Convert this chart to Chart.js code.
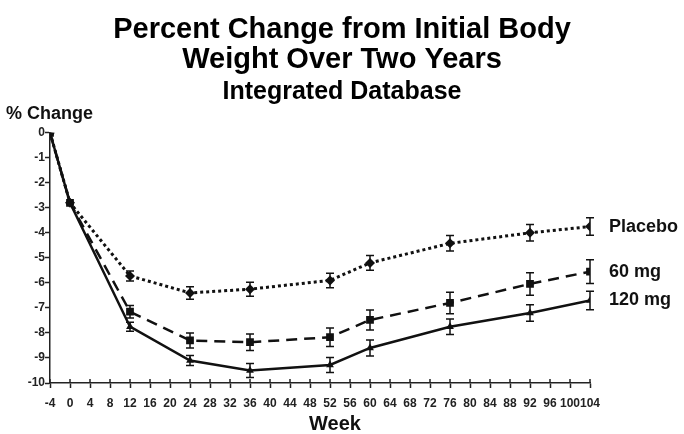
<!DOCTYPE html>
<html lang="en">
<head>
    <meta charset="UTF-8">
    <title>Percent Change from Initial Body Weight Over Two Years</title>
    <script src="https://cdn.jsdelivr.net/npm/chart.js@4.4.1/dist/chart.umd.min.js"></script>
    <style>
        html, body { margin: 0; padding: 0; background: #fff; }
        #wrap { width: 684px; height: 434px; }
    </style>
</head>
<body>
    <div id="wrap"><canvas id="weightChart"></canvas></div>

    <script>
        // Values
        const weeks = [-4, 0, 12, 24, 36, 52, 60, 76, 92, 104];
        const placebo = [0, -2.8, -5.72, -6.4, -6.25, -5.9, -5.2, -4.42, -4.0, -3.75];
        const mg60 = [0, -2.8, -7.15, -8.3, -8.37, -8.17, -7.48, -6.8, -6.04, -5.55];
        const mg120 = [0, -2.8, -7.75, -9.1, -9.5, -9.28, -8.6, -7.75, -7.2, -6.7];

        // half-length of the error bars
        const placeboErr = [0, 0, 0.2, 0.25, 0.28, 0.29, 0.29, 0.31, 0.33, 0.35];
        const mg60Err = [0, 0, 0.25, 0.3, 0.33, 0.37, 0.4, 0.43, 0.45, 0.47];
        const mg120Err = [0, 0, 0.18, 0.2, 0.28, 0.3, 0.32, 0.31, 0.33, 0.37];

        const seriesNames = ['Placebo', '60 mg', '120 mg'];
        const weekTicks = { min: -4, max: 104, step: 4 };
        const changeTicks = { min: -10, max: 0, step: 1 };

        const ink = '#111';
        const pts = (vals) => weeks.map((w, i) => ({ x: w, y: vals[i] }));

        Chart.defaults.font.family = '"Liberation Sans", Arial, sans-serif';
        Chart.defaults.color = ink;

        // error bars + inner x ticks + free text labels
        const extras = {
            id: 'extras',
            afterDatasetsDraw(chart) {
                const ctx = chart.ctx;
                const xs = chart.scales.x, ys = chart.scales.y;
                const errs = [placeboErr, mg60Err, mg120Err];
                ctx.save();
                ctx.strokeStyle = ink;
                ctx.lineWidth = 1.5;
                chart.data.datasets.forEach((ds, i) => {
                    ds.data.forEach((p, j) => {
                        const e = errs[i][j];
                        if (!e) return;
                        const x = xs.getPixelForValue(p.x);
                        const y1 = ys.getPixelForValue(p.y + e);
                        const y2 = ys.getPixelForValue(p.y - e);
                        ctx.beginPath();
                        ctx.moveTo(x, y1); ctx.lineTo(x, y2);
                        ctx.moveTo(x - 4, y1); ctx.lineTo(x + 4, y1);
                        ctx.moveTo(x - 4, y2); ctx.lineTo(x + 4, y2);
                        ctx.stroke();
                    });
                });
                ctx.restore();
            },
            afterDraw(chart) {
                const ctx = chart.ctx;
                const xs = chart.scales.x, ys = chart.scales.y;
                const area = chart.chartArea;
                ctx.save();
                // tick stubs above the x axis line
                ctx.strokeStyle = '#222';
                ctx.lineWidth = 1.5;
                xs.ticks.forEach(t => {
                    const x = xs.getPixelForValue(t.value);
                    ctx.beginPath();
                    ctx.moveTo(x, area.bottom - 4);
                    ctx.lineTo(x, area.bottom);
                    ctx.stroke();
                });

                ctx.fillStyle = ink;
                ctx.textBaseline = 'middle';
                ctx.font = 'bold 18px "Liberation Sans", Arial, sans-serif';
                ctx.textAlign = 'left';
                const lasts = [placebo, mg60, mg120].map(a => a[a.length - 1]);
                seriesNames.forEach((name, i) => {
                    ctx.fillText(name, area.right + 19, ys.getPixelForValue(lasts[i]));
                });

                ctx.font = 'bold 18px "Liberation Sans", Arial, sans-serif';
                ctx.fillText('% Change', 6, area.top - 19);

                ctx.textAlign = 'center';
                ctx.font = 'bold 20px "Liberation Sans", Arial, sans-serif';
                ctx.fillText('Week', (area.left + area.right) / 2 + 15, area.bottom + 41);
                ctx.restore();
            }
        };

        new Chart(document.getElementById('weightChart').getContext('2d'), {
            type: 'line',
            data: {
                datasets: [
                    {
                        label: seriesNames[0],
                        data: pts(placebo),
                        borderColor: ink,
                        backgroundColor: ink,
                        borderWidth: 3,
                        borderDash: [3, 3],
                        pointStyle: 'rectRot',
                        pointRadius: 5,
                        pointBorderWidth: 0
                    },
                    {
                        label: seriesNames[1],
                        data: pts(mg60),
                        borderColor: ink,
                        backgroundColor: ink,
                        borderWidth: 2.5,
                        borderDash: [11, 7],
                        pointStyle: 'rect',
                        pointRadius: 5.5,
                        pointBorderWidth: 0
                    },
                    {
                        label: seriesNames[2],
                        data: pts(mg120),
                        borderColor: ink,
                        backgroundColor: ink,
                        borderWidth: 2.5,
                        pointStyle: 'triangle',
                        pointRadius: 4.5,
                        pointBorderWidth: 0
                    }
                ]
            },
            options: {
                responsive: true,
                maintainAspectRatio: false,
                animation: false,
                layout: { padding: 0 },
                plugins: {
                    legend: { display: false },
                    tooltip: { enabled: false },
                    title: {
                        display: true,
                        text: ['Percent Change from Initial Body', 'Weight Over Two Years'],
                        color: '#000',
                        font: { size: 29, weight: 'bold', lineHeight: 1.03 },
                        padding: { top: 15, bottom: 2 }
                    },
                    subtitle: {
                        display: true,
                        text: 'Integrated Database',
                        color: '#000',
                        font: { size: 25, weight: 'bold', lineHeight: 1.2 },
                        padding: { top: 0, bottom: 26 }
                    }
                },
                scales: {
                    x: {
                        type: 'linear',
                        min: weekTicks.min,
                        max: weekTicks.max,
                        afterFit(scale) { scale.height = 51; },
                        border: { display: true, color: '#222', width: 1.5 },
                        grid: { drawOnChartArea: false, tickLength: 5, tickWidth: 1.5, tickColor: '#222' },
                        ticks: {
                            stepSize: weekTicks.step,
                            autoSkip: false,
                            maxRotation: 0,
                            padding: 8,
                            color: '#222',
                            font: { size: 12, weight: 'bold' }
                        }
                    },
                    y: {
                        min: changeTicks.min,
                        max: changeTicks.max,
                        afterFit(scale) { scale.width = 50; },
                        border: { display: true, color: '#222', width: 1.5 },
                        grid: { drawOnChartArea: false, tickLength: 5, tickWidth: 1.5, tickColor: '#222' },
                        ticks: {
                            stepSize: changeTicks.step,
                            padding: 0,
                            color: '#222',
                            font: { size: 12, weight: 'bold' }
                        }
                    },
                    // empty right-hand axis: keeps room for the series names
                    yRoom: {
                        position: 'right',
                        min: changeTicks.min,
                        max: changeTicks.max,
                        afterFit(scale) { scale.width = 94; },
                        border: { display: false },
                        grid: { display: false },
                        ticks: { display: false }
                    }
                }
            },
            plugins: [extras]
        });
    </script>
</body>
</html>
